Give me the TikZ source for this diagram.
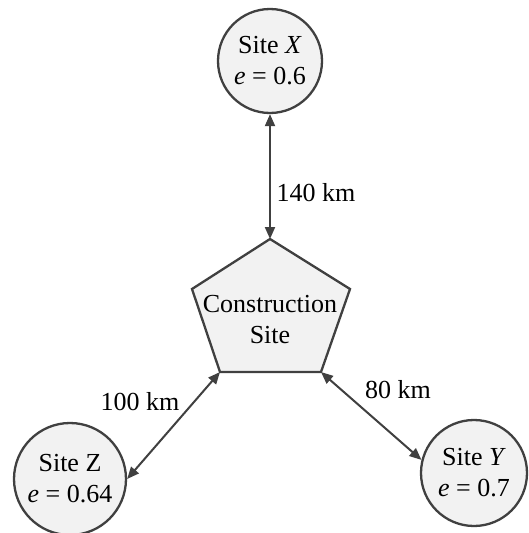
\documentclass[tikz,border=0pt]{standalone}
\usepackage{fontspec}
\setmainfont{Liberation Serif}
\usetikzlibrary{arrows.meta}
\definecolor{edgecol}{HTML}{404040}
\definecolor{sitefill}{HTML}{F2F2F2}
\begin{document}
\begin{tikzpicture}[x=1pt,y=-1pt,
  site/.style={circle,draw=edgecol,line width=2.3pt,fill=sitefill,inner sep=0pt,align=center,font=\fontsize{26}{31}\selectfont},
  link/.style={draw=edgecol,line width=2pt,{Triangle[length=12pt,width=10pt]}-{Triangle[length=12pt,width=10pt]}},
  dist/.style={font=\fontsize{26}{30}\selectfont,inner sep=0pt},
  pent/.style={draw=edgecol,line width=2.3pt,fill=sitefill,line join=miter}]
\useasboundingbox (0,0) rectangle (528,533);
\node[site,minimum size=104pt] (X) at (270,61) {Site \textit{X}\\\textit{e} = 0.6};
\node[site,minimum size=112pt] (Z) at (70,479) {Site Z\\\textit{e} = 0.64};
\node[site,minimum size=106pt] (Y) at (474,473) {Site \textit{Y}\\\textit{e} = 0.7};
\coordinate (pt) at (270,239);
\coordinate (pur) at (350,289);
\coordinate (pbr) at (321,372);
\coordinate (pbl) at (220,372);
\coordinate (pul) at (192,289);
\draw[pent] (pt) -- (pur) -- (pbr) -- (pbl) -- (pul) -- cycle;
\node[align=center,font=\fontsize{26}{31}\selectfont,inner sep=0pt] (C) at (270,320) {Construction\\Site};
\draw[link] (X.south) -- (pt);
\draw[link] (pbl) -- (Z.east);
\draw[link] (pbr) -- (Y.166);
\node[dist] (d140) at (316,193) {140 km};
\node[dist] (d100) at (140,402) {100 km};
\node[dist] (d80) at (398,390) {80 km};
\end{tikzpicture}
\end{document}
